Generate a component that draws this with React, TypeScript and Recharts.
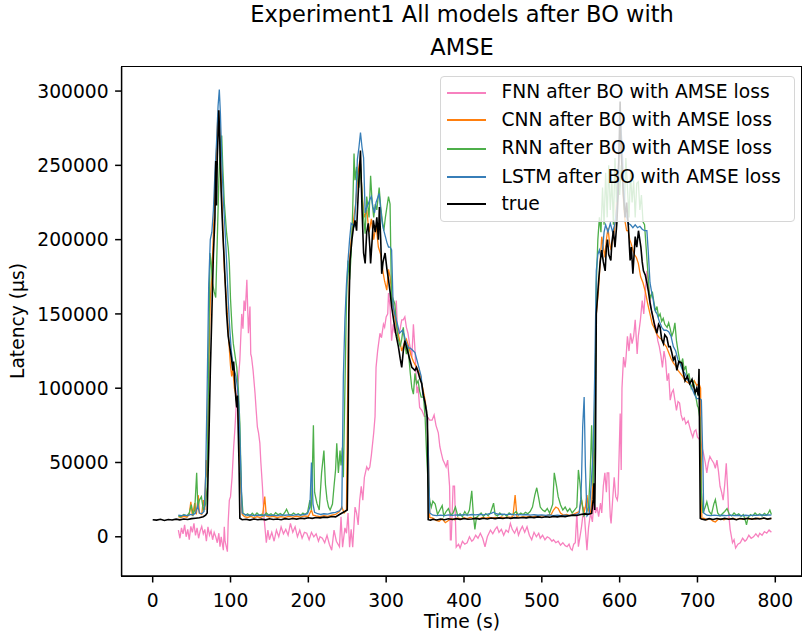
import React from 'react';
import { LineChart, Line, XAxis, YAxis } from 'recharts';

const FONT = "'DejaVu Sans', sans-serif";
const TITLE_LINES = ['Experiment1 All models after BO with', 'AMSE'];
const X_LABEL = 'Time (s)';
const Y_LABEL = 'Latency (μs)';
const X_TICKS = [0, 100, 200, 300, 400, 500, 600, 700, 800];
const Y_TICKS = [0, 50000, 100000, 150000, 200000, 250000, 300000];
const SERIES_NAMES = [
  'FNN after BO with AMSE loss',
  'CNN after BO with AMSE loss',
  'RNN after BO with AMSE loss',
  'LSTM after BO with AMSE loss',
  'true',
];
const COLORS = ['#f781bf', '#ff7f0e', '#4daf4a', '#377eb8', '#000000'];

// values: [time (s), latency in thousands of µs]
const FNN_K: [number, number][] = [
  [33,4.5],[35,-1],[37,6],[39,2],[41,8],[43,0],[45,5],[47,-2],[49,7],[51,3],[53,9],[55,1],[57,6],[59,-1],[61,4],[63,7],[65,2],[67,5],[69,-3],[71,6.7],[73,1],[75,4],[77,-2],[79,3],[81,0],[83,-4],[85,2.4],[86.5,-6.7],[88,0],[90.8,-9],[92,6.7],[93,-3],[96,-10],[97,10],[98.5,24.7],[100,27],[102,40],[104,60],[105.8,74],[108,95],[110,105],[112,119],[114.4,150],[116,140],[117.4,159],[119,152],[121,173],[123,137],[125,155],[126,123],[127,121],[129,112],[131.5,96.6],[133,85],[134.5,74],[136,70],[137.7,63],[139,50],[141,34],[143,13.5],[146,-4],[148,4.5],[150,-2],[153,3],[156,-3],[159,4.5],[162,0],[165,6.7],[168,2],[171,5],[174,1],[177,9],[180,3],[183,6.7],[186,0],[189,4.5],[192,-1],[195,3],[198,2.4],[201,-2],[204,3],[207,0],[210,2],[213,-3],[215,0],[218,-1],[221,-4],[224,1],[227,-5],[230,-9],[233,4.5],[236,-3],[240,-6.7],[242,13.5],[244,-7],[247,6],[249,2.4],[251,16],[253,-7],[255,5],[257,-7],[260,20],[262,16],[264,8],[266,24.7],[268,34],[270,24.7],[272,40],[275,47],[277,45],[279,47],[281,55],[284,70],[285.7,81],[287,114],[289,125],[292,137],[294,134],[296.5,143],[298,141],[300,148],[302,150],[303,164],[305,155],[307,132],[309,143],[311,137],[313,159],[315,134],[318,140],[320,146],[322,146],[324,148],[326,141],[328,137],[330,130],[333,121],[335,143],[337,126],[339.5,96.7],[341,101],[343,87],[346,85],[349,81],[352.5,81],[356,78.5],[359,78.5],[361.6,82],[364,75],[367,70],[369,60.6],[371,56],[373,51.6],[375,49.5],[377,47],[379,51.6],[381.5,34],[382.5,-2],[383.6,-2],[386,34],[387.8,34],[390,-7],[393,-5],[395,-7.6],[398,-3],[401,-5],[404,-4],[407,0],[410,-3],[412,-2],[415,1],[418,-1],[421,2.4],[424,-1],[427,-6.7],[430,0],[434,4.5],[437,2],[440,5],[442.5,6.7],[445,3],[448,5],[451,1],[454,4.5],[457,3],[459.6,9],[462,5],[465,2.4],[468,6],[470,1],[472.5,4.5],[475,7],[478,3],[481,6.7],[484,1],[487,-2],[490,3],[493,0],[496,2.4],[498,-1],[501,1],[504,-2],[507,0],[510,-1],[513,-3],[515,-2],[518,-4],[521,-3],[524,-5.6],[527,-4],[530,-6],[532.5,-6.7],[535,-5],[537,-8],[539,-9],[541,-5],[543,-4],[545,16],[547,-6.7],[549,0],[551,6.7],[554,20],[556,5],[558,-9],[560,6],[562.6,16],[565,10],[567,24.7],[569,16],[571,20],[573,13.5],[575.4,22.6],[577,16],[579,34],[581,43],[583,30],[584,43],[586,43],[587,24.7],[588,13.5],[589,9],[591,24.7],[593,40],[595,27],[597,24.7],[598,29],[600.7,83],[602,45],[603,100],[605,121],[607,114],[608,119],[610,135],[612,125],[614,137],[616,130],[618,135],[620,146],[622.5,123],[624,135],[626.7,146],[629,159],[631,150],[633,165],[635,179],[637,170],[639,161],[640,155],[642,150],[644,145],[646.7,141],[649,132],[651,128],[653,122],[655,114],[657,125],[659,119],[661,105],[663,110],[665,92],[667,97],[669,99],[671,92],[673,85],[675,91],[677,90],[679,82],[681,78.5],[683,80],[685,76],[688,78],[690,74],[692,70],[694,67],[696,71],[698,72],[700,67],[703.6,65],[706,60],[707.8,56],[710,50],[712,43],[714,50],[716,54],[718,52],[721,49.5],[723,46],[725,51.6],[727,44],[729,34],[731,30],[733,24.7],[735,35],[737,49.5],[739,30],[740,16],[742,5],[745,-4],[747,-2],[749,-7.6],[752,-5],[755,-4],[758,-1],[761,-3],[763,-2],[766,1],[769,-1],[772,0],[775,2],[778,0],[780,2.4],[783,1],[786,3.5],[789,2.4],[792,4.5],[795,3],
];

const CNN_K: [number, number][] = [
  [33,13.5],[36,13.0],[40,13.8],[44,13.2],[47,15],[49,23.6],[51,14],[54,22.6],[56,15],[58.6,28],[60,16],[63,15],[65,24.7],[67,18],[68.5,51.6],[70,40],[72,110],[74,160],[76,175],[78,205],[80,235],[82,260],[84,287],[86,275],[88,240],[90,210],[92,180],[94,165],[96,150],[98,130],[100,115],[101.5,108],[103,113],[105,100],[107,95],[109,88],[111,70],[113,40],[115,15],[118,13.5],[122,13.0],[126,13.8],[130,12.8],[134,13.5],[138,13.0],[141,13.6],[144,27],[146,14],[150,13.2],[155,13.8],[160,13.0],[165,13.6],[170,13.1],[175,13.7],[180,13.2],[185,13.8],[190,13.3],[195,14],[200,13.8],[204,18],[206,14.5],[210,14],[215,13.6],[220,14.2],[225,13.8],[230,14.5],[235,15],[240,17],[243,20],[246,16],[249,18],[251,120],[253,185],[255,200],[258,213],[261,225],[264,245],[266,253],[268,240],[270,225],[272,215],[275,220],[278,205],[281,214],[284,200],[287,210],[290,195],[293,190],[296,178],[298,172],[300.8,166],[303,180],[305,175],[308,160],[311,148],[314,140],[317,133],[320,125],[323,130],[326,133],[329,128],[332,122],[335,118],[338,115],[341,112],[344,108],[347,100],[350,92],[352,85],[354,60],[356,13],[360,12.5],[364,11],[368,10.5],[372,12],[376,9.5],[380,11],[384,12.2],[388,11.5],[392,12.6],[396,12],[400,12.8],[404,12.2],[408,13],[412,12.4],[416,12.9],[420,12.2],[424,13],[428,12.5],[432,13.2],[436,12.6],[440,13.1],[444,12.5],[448,13.3],[452,12.8],[456,13.4],[460,13],[463,14],[465.7,28],[468,13.5],[472,13],[476,13.6],[480,13.2],[484,13.8],[488,13.3],[492,14],[496,13.5],[500,14.2],[504,13.8],[508,14.5],[512,15],[515,18],[518,20],[521,19],[524,16],[528,14.5],[532,15],[536,14.2],[540,15],[544,16],[548,17],[551,25],[554,16],[556,20],[558,28],[560,18],[562,15],[564,22],[566,40],[568,90],[570,150],[572.8,166],[575,185],[577,202],[579,195],[581,188],[583,200],[585,208],[587,198],[589,193],[591,200],[593,206],[595,215],[597,235],[599,255],[601,270],[603,250],[605,225],[607,212],[609,206],[611,206],[613,200],[615,197],[617,193],[619,190],[621.5,188],[624,184],[627,175],[630,171],[633,165],[636,157],[639,150],[642,143],[645,140],[648,136],[651,134],[654,133],[657,130],[660,128],[663,124],[666,120],[669,117],[672,115],[675,112],[678,110],[681,108],[684,105],[687,104],[690,103],[693,101],[696,105],[699,102],[702,103],[704,100],[705.6,12],[708,12.5],[712,11.5],[716,12.2],[720,10.5],[723,10],[726,11.5],[730,12.2],[734,11.5],[738,12.4],[742,11.8],[746,12.5],[750,11.6],[754,12.3],[758,11.8],[762,12.5],[766,11.7],[770,12.4],[774,11.9],[778,12.6],[782,12],[786,12.5],[790,11.9],[795,12.4],
];

const RNN_K: [number, number][] = [
  [33,14],[36,13.5],[40,15],[44,14],[47,16],[49.6,21.6],[52,15],[54,18],[56.5,43],[58,20],[60,24.7],[62.6,27],[65,18],[68,22],[70,34],[72,120],[73.6,191],[75,185],[77,170],[79,165],[81,161],[83,200],[85,240],[87,265],[88.7,270],[90,250],[92,225],[95,204],[97,195],[98.5,184],[100,160],[102,140],[103.6,130],[105,125],[108,114],[110,100],[112,76.5],[114,30],[116,16],[119,14.5],[122,15.5],[125,14],[128,15.8],[131,14.2],[134,16],[137,14.5],[140,15.2],[143,14],[146,16],[149,14.6],[152,15.5],[155,14.2],[158,16.2],[161,14.8],[164,15.6],[167,14.4],[170,16.5],[172,18.5],[175,15],[178,14.6],[181,16],[184,14.8],[187,15.5],[190,14.4],[193,16],[196,15],[199,16.5],[202,24.7],[204,18],[206.5,75],[208,30],[211,22.6],[214,18],[217,43],[220,58],[222,35],[224,25],[226,20],[228,18],[231,22],[233,34],[235,45],[236.5,63],[238.6,43],[240.7,58],[242,48],[243.7,60],[245,40],[247,100],[249,160],[251,186],[253,173],[255,190],[257,220],[258.7,258],[260,240],[262,249],[265,235],[267,251],[269,230],[271,215],[273,204],[275,229],[278,215],[280,243],[282,225],[284,215],[286,224],[288,220],[291,235],[293,222],[295,213],[297,206],[299,215],[301,222],[303,229],[305,224],[307,155],[309,160],[311,157],[313,145],[315,134],[318,128],[320,133],[322,141],[324,130],[326,123],[328,128],[331,110],[333,100],[335,96],[337,110],[339,103],[341,105],[343,98],[345,94],[348,94],[350,81],[352,55],[354,35],[356,24],[358,20],[360,24],[363,22],[366,15],[369,18],[372,21],[374,14],[377,17],[380,19],[383,14.5],[386,16],[389,20],[392,14],[395,15.5],[398,13.5],[401,17],[404,14.5],[407,18],[410,31],[412,15],[414,5],[416,13],[419,14.5],[422,16],[425,13.8],[428,15.5],[431,14.2],[434,16],[438,22.6],[440,15],[443,14],[446,16],[449,14.5],[452,15.2],[455,14],[458,16],[461,14.8],[464,15.5],[467,17],[470,14.6],[473,16],[476,15],[479,16.5],[482,15.5],[485,17],[488,20],[491,28],[493.5,33],[496,26],[498,20],[501,18],[504,17],[507,19],[510,16],[514,22],[516,43],[519,34],[521,27],[524,21.6],[527,18],[530,20],[533,17],[536,19],[539,16],[542,18],[545,20],[547,45],[549,36],[551,25],[554,14],[557,16],[560,20],[562,40],[564,75],[566,34],[568,60],[570,170],[572,200],[574,215],[576,205],[578,235],[580,210],[582,245],[584,215],[586,250],[588,220],[590,240],[592,210],[594,255],[596,225],[598,245],[600,230],[602,250],[604,240],[606,220],[608,255],[610,235],[612,215],[614,245],[616,225],[618,240],[620,215],[622,238],[624,239],[626,220],[628,230],[630,212],[632,210],[634,195],[636,180],[638,164],[640,161],[642,165],[644,158],[646,152],[648,155],[650,148],[652,150],[654,145],[656,147],[658,143],[661,141],[663,144],[665,140],[667,135],[669,138],[671,144],[673,132],[675,125],[677,119],[679,116],[681,120],[683,112],[685,115],[687,107],[689,110],[692,100],[695,104],[698,94],[700,88],[701,87],[703,80],[705,30],[707,16],[710,20],[712,23.5],[715,17],[718,15],[721,22],[723,25],[726,16],[729,14],[732,15.5],[735,17],[738,19],[741,15],[744,14],[747,16],[750,14.5],[753,15.5],[756,13.8],[759,15],[762,10],[763,8],[765,13],[768,15],[771,14],[774,16],[777,14.5],[780,15.5],[783,14],[786,15.8],[789,14.5],[791,16],[793,18],[795,15],
];

const LSTM_K: [number, number][] = [
  [33,14.5],[37,14.2],[41,14.6],[45,14.3],[49,15],[52,14.8],[55,16],[58,21],[60,16],[63,15.5],[66,17],[68,40],[70,100],[72,170],[74,200],[76,205],[78,220],[80,245],[82,265],[84,290],[85.6,301],[87,285],[89,250],[91,225],[93,206],[95,185],[97,160],[99,140],[101,125],[103,117],[105,112],[107,108],[109,100],[111,85],[113,50],[115,16],[118,15],[122,14.5],[126,14.8],[130,14.3],[135,14.6],[140,14.4],[145,14.8],[150,14.2],[155,14.6],[160,14.3],[165,14.7],[170,14.5],[175,14.8],[180,14.4],[185,14.9],[190,14.6],[195,15],[199,15.5],[202,20],[204,50],[206,22],[208,16.5],[212,15.5],[216,15],[220,15.5],[225,15.2],[230,16],[235,16.5],[240,17.5],[243,19],[245,108],[247,146],[249,170],[251,186],[253,200],[255,211],[257,210],[259,209],[261,225],[263,254],[265,262],[267,272],[269,262],[271,255],[273,218],[275,222],[277,224],[279,227],[281,229],[283,222],[285,218],[287,225],[289,228],[291,231],[293,220],[295,211],[297,206],[299,202],[301,198],[303,195],[305,195],[307,193],[309,155],[311,150],[313,146],[315,142],[317,137],[319,138],[321,139],[323,136],[325,132],[327,129],[329,127],[331,127],[333,126],[335,125],[337,124],[339,120],[341,116],[343,112],[345,108],[347,96],[350,90],[352,85],[354,60],[356,16],[360,14.5],[365,14.2],[370,14.6],[375,14.3],[380,14.7],[385,14.4],[390,14.8],[395,14.5],[400,14.9],[405,14.6],[410,15],[415,14.7],[420,15.1],[425,14.8],[430,15.2],[435,15.8],[438,16.5],[441,15.5],[445,15],[450,15.3],[455,14.9],[460,15.2],[465,14.8],[470,15.1],[475,14.7],[480,15],[485,14.6],[490,14.9],[495,14.5],[500,14.8],[505,14.4],[510,14.7],[515,14.3],[520,14.6],[525,14.3],[530,14.6],[535,14.2],[540,14.5],[545,15],[548,16],[550,25],[551,38],[552.5,74],[554.4,94],[556,47],[558,14],[561,16],[564,40],[566,58],[568,110],[570,179],[572,190],[574,193],[576,188],[578,193],[580,205],[582,210],[585,205],[588,211],[591,205],[594,211],[597,225],[599,260],[601,280],[603,265],[605,240],[607,220],[609,215],[611,211],[614,210],[617,208],[620,210],[623,208],[626,209],[629,207],[632,206],[635,206],[637,190],[639,171],[641,165],[643,160],[645,153],[648,150],[651,145],[654,141],[657,139],[660,139],[663,138],[666,135],[669,128],[672,125],[675,119],[678,116],[681,112],[684,110],[687,106],[690,103],[693,100],[696,96],[699,93],[703,93],[705,92],[707,50],[708,16],[712,14.5],[717,14.2],[722,14.6],[727,14.3],[732,14.5],[737,14.2],[742,14.6],[747,14.3],[752,14.5],[757,14.2],[762,14.5],[767,14.3],[772,14.6],[777,14.4],[782,14.7],[787,14.5],[792,14.8],[795,14.6],
];

const TRUE_K: [number, number][] = [
  [0,11.5],[5,11.2],[10,11.8],[15,11.0],[20,11.6],[25,11.3],[30,11.9],[35,11.4],[40,12.0],[45,11.6],[50,12.2],[55,12.5],[60,12.8],[65,13.5],[68,14.5],[70,16],[72,60],[74,110],[76,150],[78,190],[80,215],[81,253],[82,223],[83,255],[85,287],[86,270],[87,250],[88,232],[90,206],[92,185],[93,173],[95,150],[97,135],[99,128],[101,121],[103,112],[104,118],[106,100],[107,92],[108,87],[109,95],[110,70],[111,47],[112,12.5],[115,11.5],[120,11.8],[125,11.2],[130,12.0],[135,11.5],[140,11.9],[145,11.4],[150,12.1],[155,11.6],[160,12.0],[165,11.5],[170,12.2],[175,11.8],[180,12.3],[185,11.9],[190,12.5],[195,12.2],[200,12.8],[205,12.4],[210,13.0],[215,12.7],[220,13.2],[225,13.0],[230,13.6],[235,13.4],[240,15],[245,16.5],[250,18],[251,60],[252,150],[253.6,186],[256,200],[258,208],[260,213],[262,206],[264,230],[267,260],[269,220],[271,191],[273,184],[275,205],[277,211],[279,195],[280,184],[282,200],[283.5,213],[286,205],[288,215],[290,200],[291.3,222],[293,200],[294.3,177],[296,185],[298.6,191],[301,180],[303,173],[305,165],[307,155],[309,148],[311,141],[313,135],[315.7,128],[318,120],[320,114],[322,125],[324,132],[326,128],[328.5,123],[331,118],[333,114],[335,113],[337,112],[339,114],[341.4,110],[343,107],[345.7,103],[348,95],[350,90],[352,83],[353,80],[354,11.5],[357,11.2],[360,11.8],[365,11.3],[370,12.0],[375,11.5],[380,12.1],[385,11.6],[390,12.2],[395,11.7],[400,12.3],[405,11.8],[410,12.0],[415,12.4],[420,11.9],[425,12.5],[430,12.0],[435,12.6],[440,12.2],[445,12.7],[450,12.3],[455,12.8],[460,12.4],[465,12.9],[470,12.6],[475,13.0],[480,12.7],[485,13.2],[490,12.9],[495,13.4],[500,13.0],[505,13.5],[510,13.2],[515,13.7],[520,13.4],[525,13.9],[530,13.6],[535,14.2],[540,14.6],[545,14.3],[550,15.0],[555,15.4],[560,15.2],[564,15.7],[566,25],[567,36],[568,18],[569,60],[570,150],[572.8,171],[575,185],[577,193],[579,185],[581.4,179],[583,195],[584.4,200],[586,190],[588.7,186],[590,198],[592,206],[594,195],[596.4,211],[598,230],[600.6,293],[602,260],[604.9,230],[607,215],[609,225],[611.3,208],[613.5,186],[615,195],[617,177],[620,202],[622,195],[624.2,206],[627.3,195],[629,185],[630.6,179],[633,176],[635,171],[637,165],[639.2,157],[641,152],[643.5,146],[645,142],[647.8,137],[650,143],[652,141],[654,133],[656.3,130],[658,136],[660.7,134],[663,128],[665,128],[667,124],[669,119],[671,121],[673.5,112],[676,118],[680,117],[682,110],[684,105],[687,108],[690,103],[693,106],[697,97],[699,100],[701,95],[702,113],[703.6,12.5],[705,12.0],[710,11.4],[715,12.2],[720,11.6],[725,12.3],[730,11.7],[735,12.4],[740,11.8],[745,12.2],[750,11.5],[755,12.3],[760,11.9],[765,12.5],[770,11.8],[775,12.4],[780,12.0],[785,12.6],[790,11.9],[795,12.4],
];

const SERIES_K = [FNN_K, CNN_K, RNN_K, LSTM_K, TRUE_K];
const toRows = (pts: [number, number][]) => pts.map(([t, k]) => ({ t, v: k * 1000 }));

const W = 803;
const H = 635;
const TICK_FONT = 18.7;
const PLOT = { left: 121.6, top: 67, right: 801.6, bottom: 576 };

export default function App() {
  const seriesRows = SERIES_K.map(toRows);
  const axisStroke = { stroke: '#000', strokeWidth: 1.5 };
  const tickStyle = { fontFamily: FONT, fontSize: TICK_FONT, fill: '#000' };
  return (
    <div style={{ position: 'absolute', left: 0, top: 0, width: W, height: H, overflow: 'hidden', background: '#fff', fontFamily: FONT }}>
      <LineChart width={W} height={H} margin={{ top: PLOT.top, right: W - PLOT.right, bottom: 0, left: 0 }}>
        <XAxis
          dataKey="t"
          type="number"
          domain={[-39.95, 833.8]}
          allowDataOverflow
          ticks={X_TICKS}
          interval={0}
          height={H - PLOT.bottom}
          tickSize={6.5}
          tickMargin={11}
          axisLine={axisStroke}
          tickLine={axisStroke}
          tick={tickStyle}
        />
        <YAxis
          type="number"
          domain={[-26400, 316200]}
          allowDataOverflow
          ticks={Y_TICKS}
          interval={0}
          width={PLOT.left}
          tickSize={6.5}
          tickMargin={6.5}
          axisLine={axisStroke}
          tickLine={axisStroke}
          tick={tickStyle}
          tickFormatter={(v: number) => String(v)}
        />
        {seriesRows.map((rows, i) => (
          <Line
            key={SERIES_NAMES[i]}
            data={rows}
            dataKey="v"
            name={SERIES_NAMES[i]}
            type="linear"
            stroke={COLORS[i]}
            strokeWidth={i === 4 ? 1.6 : 1.3}
            dot={false}
            activeDot={false}
            isAnimationActive={false}
          />
        ))}
      </LineChart>

      <div
        style={{
          position: 'absolute',
          left: PLOT.left - 0.75,
          top: PLOT.top - 0.75,
          width: PLOT.right - PLOT.left + 1.5,
          height: PLOT.bottom - PLOT.top + 1.5,
          boxSizing: 'border-box',
          border: '1.5px solid #000',
          pointerEvents: 'none',
        }}
      />

      {TITLE_LINES.map((line, i) => (
        <div
          key={line}
          style={{ position: 'absolute', left: 462, top: (i === 0 ? 14 : 47) - 11.25, transform: 'translateX(-50%)', fontSize: 22.5, lineHeight: '22.5px', whiteSpace: 'nowrap', color: '#000' }}
        >
          {line}
        </div>
      ))}
      <div style={{ position: 'absolute', left: 462, top: 622 - 9.35, transform: 'translateX(-50%)', fontSize: TICK_FONT, lineHeight: `${TICK_FONT}px`, whiteSpace: 'nowrap', color: '#000' }}>
        {X_LABEL}
      </div>
      <div style={{ position: 'absolute', left: 18, top: 321.4, transform: 'translate(-50%, -50%) rotate(-90deg)', fontSize: TICK_FONT, lineHeight: `${TICK_FONT}px`, whiteSpace: 'nowrap', color: '#000' }}>
        {Y_LABEL}
      </div>

      <div style={{ position: 'absolute', left: 440, top: 76, width: 355, height: 146, boxSizing: 'border-box', border: '1.5px solid #d6d6d6', borderRadius: 4, background: 'rgba(255,255,255,0.8)' }}>
        {SERIES_NAMES.map((name, i) => {
          const cy = [15.7, 43.3, 71.7, 100, 127.3][i];
          return (
            <React.Fragment key={name}>
              <div style={{ position: 'absolute', left: 6, top: cy - 1, width: 39.4, height: 2, background: COLORS[i] }} />
              <div style={{ position: 'absolute', left: 60.5, top: cy - 9.35, fontSize: TICK_FONT, lineHeight: `${TICK_FONT}px`, whiteSpace: 'nowrap', color: '#000' }}>
                {name}
              </div>
            </React.Fragment>
          );
        })}
      </div>
    </div>
  );
}
